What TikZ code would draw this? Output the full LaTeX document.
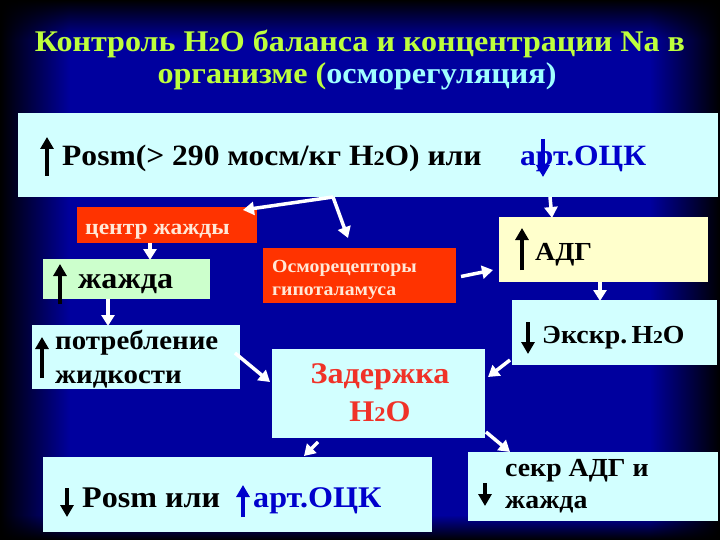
\documentclass[tikz,border=0pt]{standalone}
\usepackage{fontspec}
\setmainfont[FakeStretch=1.07]{Liberation Serif}
\usepackage{graphicx}
\usetikzlibrary{arrows.meta,calc,fadings}

\definecolor{bgblue}{RGB}{0,0,158}
\definecolor{titlegreen}{RGB}{190,255,60}
\definecolor{titlecyan}{RGB}{160,255,255}
\definecolor{lcyan}{RGB}{210,255,255}
\definecolor{lgreen}{RGB}{204,255,204}
\definecolor{lyellow}{RGB}{255,255,204}
\definecolor{boxred}{RGB}{255,51,0}
\definecolor{cream}{RGB}{255,232,215}
\definecolor{txtblue}{RGB}{0,0,204}
\definecolor{txtred}{RGB}{240,50,40}

\newcommand{\hto}{H\scalebox{0.7}{2}O}
\newcommand{\fs}[1]{\fontsize{#1}{#1}\selectfont}

\tikzset{
  box/.style={anchor=north west, inner sep=0pt, outer sep=0pt},
  lbl/.style={anchor=base west, inner sep=0pt, font=\bfseries},
  wflow/.style={white, line width=3.5pt, -{Triangle[length=11pt,width=13pt]}},
  sign/.style={line width=4pt, -{Triangle[length=12pt,width=13pt]}}
}

\begin{document}
\begin{tikzpicture}[x=1pt,y=-1pt]
% background
\fill[bgblue] (0,0) rectangle (720,540);
\fill[black, path fading=east] (0,0) rectangle (70,540);
\fill[black, path fading=west] (650,0) rectangle (720,540);
\fill[black, path fading=south] (0,0) rectangle (720,40);
\fill[black, path fading=north] (0,515) rectangle (720,540);
\useasboundingbox (0,0) rectangle (720,540);

% title
\node[anchor=base, inner sep=0pt, font=\fs{30}\bfseries, text=titlegreen] (title1) at (360,52)
  {Контроль \hto{} баланса и концентрации Na в};
\node[anchor=base, inner sep=0pt, font=\fs{30}\bfseries, text=titlegreen] (title2) at (357,84)
  {организме (\textcolor{titlecyan}{осморегуляция)}};

% boxes
\node[box, fill=lcyan, minimum width=700pt, minimum height=84pt] (top) at (18,113) {};
\node[box, fill=boxred, minimum width=180pt, minimum height=36pt] (ctr) at (77,207) {};
\node[box, fill=lgreen, minimum width=167pt, minimum height=40pt] (thirst) at (43,259) {};
\node[box, fill=boxred, minimum width=193pt, minimum height=55pt] (osmo) at (263,248) {};
\node[box, fill=lyellow, minimum width=209pt, minimum height=65pt] (adh) at (499,217) {};
\node[box, fill=lcyan, minimum width=205pt, minimum height=65pt] (excr) at (512,300) {};
\node[box, fill=lcyan, minimum width=208pt, minimum height=64pt] (intake) at (32,325) {};
\node[box, fill=lcyan, minimum width=213pt, minimum height=89pt] (retain) at (272,349) {};
\node[box, fill=lcyan, minimum width=389pt, minimum height=75pt] (result) at (43,457) {};
\node[box, fill=lcyan, minimum width=250pt, minimum height=69pt] (secr) at (468,452) {};

% texts
\draw[sign] (47,176) -- (47,137);
\node[lbl, font=\fs{29.5}\bfseries] (posm) at (62,166) {Posm(> 290 мосм/кг \hto) или};
\node[lbl, font=\fs{29.5}\bfseries, text=txtblue] (occ) at (520,166) {арт.ОЦК};
\draw[sign, txtblue] (543,139) -- (543,177);

\node[lbl, font=\fs{22}\bfseries, text=cream] (ctrtxt) at (85,235) {центр жажды};

\draw[sign] (60,304) -- (60,264);
\node[lbl, font=\fs{30}\bfseries] (thirsttxt) at (78,288) {жажда};

\node[lbl, font=\fs{18.5}\bfseries, text=cream] (osmo1) at (272,272) {Осморецепторы};
\node[lbl, font=\fs{18.5}\bfseries, text=cream] (osmo2) at (272,295) {гипоталамуса};

\draw[sign] (522,270) -- (522,228);
\node[lbl, font=\fs{26}\bfseries] (adhtxt) at (535,260) {АДГ};

\draw[sign] (528,322) -- (528,354);
\node[lbl, font=\fs{26}\bfseries] (excrtxt) at (542,343) {Экскр.\,\hto};

\draw[sign] (42,378) -- (42,337);
\node[lbl, font=\fs{27}\bfseries] (intake1) at (55,349) {потребление};
\node[lbl, font=\fs{27}\bfseries] (intake2) at (55,383) {жидкости};

\node[anchor=base, inner sep=0pt, font=\fs{30}\bfseries, text=txtred] (ret1) at (380,383) {Задержка};
\node[anchor=base, inner sep=0pt, font=\fs{30}\bfseries, text=txtred] (ret2) at (380,421) {\hto};

\draw[sign] (67,488) -- (67,517);
\node[lbl, font=\fs{30}\bfseries] (res1) at (82,507) {Posm или};
\draw[sign, txtblue] (243,517) -- (243,485);
\node[lbl, font=\fs{30}\bfseries, text=txtblue] (res2) at (253,507) {арт.ОЦК};

\draw[sign] (485,483) -- (485,506);
\node[lbl, font=\fs{26}\bfseries] (secr1) at (505,476) {секр АДГ и};
\node[lbl, font=\fs{26}\bfseries] (secr2) at (505,508) {жажда};

% connectors
\coordinate (fork) at (333,197);
\draw[wflow] (fork) -- ($(ctr.north east)+(-14,3)$);
\draw[wflow] (fork) -- ($(osmo.north west)+(85,-10)$);
\draw[wflow] ($(top.south west)+(532,0)$) -- ($(adh.north west)+(53,1)$);
\draw[wflow] ($(ctr.south west)+(73,0)$) -- ($(thirst.north west)+(107,1)$);
\draw[wflow] ($(osmo.east)+(5,1)$) -- ($(adh.south west)+(-6,-12)$);
\draw[wflow] ($(adh.south west)+(101,0)$) -- ($(excr.north west)+(88,1)$);
\draw[wflow] ($(thirst.south west)+(65,0)$) -- ($(intake.north west)+(76,1)$);
\draw[wflow] ($(excr.south west)+(-2,-5)$) -- ($(retain.north east)+(3,28)$);
\draw[wflow] ($(intake.north east)+(-5,28)$) -- ($(retain.north west)+(-2,33)$);
\draw[wflow] ($(retain.south west)+(46,4)$) -- ($(result.north west)+(261,-1)$);
\draw[wflow] ($(retain.south east)+(1,-6)$) -- ($(secr.north west)+(42,0)$);
\end{tikzpicture}
\end{document}
